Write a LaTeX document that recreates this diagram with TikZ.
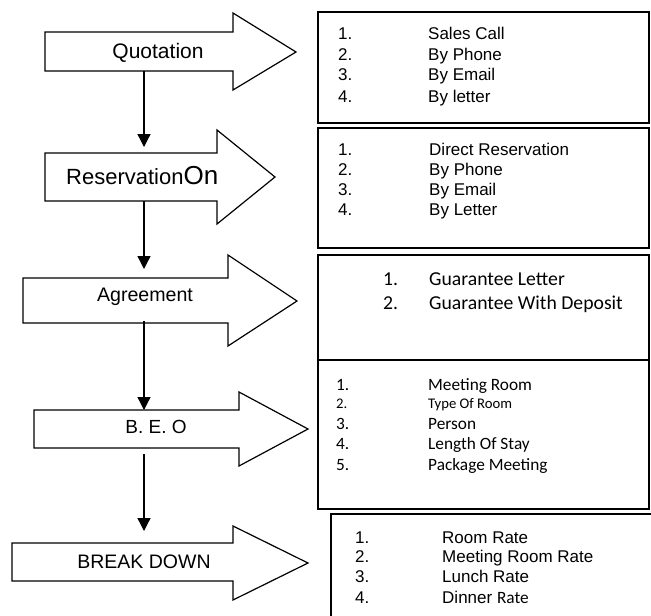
\documentclass[tikz,border=0pt]{standalone}
\usepackage{fontspec}
\setmainfont{Liberation Sans}
\newfontfamily\calfont{Carlito}
\usetikzlibrary{arrows.meta}
\begin{document}
\begin{tikzpicture}[x=1pt,y=-1pt,
  blk/.style={draw=black,line width=1.2pt,fill=white,line join=miter},
  boxline/.style={draw=black,line width=1.7pt},
  conn/.style={draw=black,line width=1.3pt,-{Triangle[width=13pt,length=13pt]}},
  lbl/.style={inner sep=0pt,anchor=base},
  itm/.style={inner sep=0pt,anchor=base west,font=\fontsize{17}{20}\selectfont},
  citm/.style={inner sep=0pt,anchor=base west,font=\calfont\fontsize{17.3}{20}\selectfont},
  gitm/.style={inner sep=0pt,anchor=base west,font=\calfont\fontsize{19.7}{23}\selectfont}]
\useasboundingbox (0,0) rectangle (651,616);
\clip (0,0) rectangle (651,616);

% ---------- right-hand boxes ----------
\draw[boxline] (318,12) rectangle (649,123);
\draw[boxline] (318,128) rectangle (649,248);
\draw[boxline] (318,255) rectangle (649,360);
\draw[boxline] (318,360) rectangle (649,509);
\draw[boxline] (331,514) rectangle (670,640);

% ---------- block arrows ----------
\draw[blk] (45,32) -- (233,32) -- (233,13) -- (296,52) -- (233,90) -- (233,71) -- (45,71) -- cycle;
\draw[blk] (45,153) -- (217,153) -- (217,130) -- (275,177) -- (217,224) -- (217,201) -- (45,201) -- cycle;
\draw[blk] (23,278) -- (228,278) -- (228,255) -- (297,301) -- (228,346) -- (228,323) -- (23,323) -- cycle;
\draw[blk] (34,410) -- (239,410) -- (239,392) -- (308,429) -- (239,466) -- (239,448) -- (34,448) -- cycle;
\draw[blk] (12,543) -- (233,543) -- (233,526) -- (308,563) -- (233,600) -- (233,581) -- (12,581) -- cycle;

% connector end points
\coordinate (q-out) at (144,71);
\coordinate (r-in) at (144,147);
\coordinate (r-out) at (144,201);
\coordinate (a-in) at (144,269);
\coordinate (a-out) at (144,321);
\coordinate (b-in) at (144,410);
\coordinate (b-out) at (144,454);
\coordinate (d-in) at (144,531);

\draw[conn] (q-out) -- (r-in);
\draw[conn] (r-out) -- (a-in);
\draw[conn] (a-out) -- (b-in);
\draw[conn] (b-out) -- (d-in);

% ---------- arrow labels ----------
\node[lbl,font=\fontsize{21}{24}\selectfont] (lq) at (158,58) {Quotation};
\node[inner sep=0pt,anchor=base west] (lr) at (66,184) {\fontsize{22}{25}\selectfont Reservation\fontsize{26}{28}\selectfont On};
\node[lbl,font=\fontsize{19.6}{23}\selectfont] (la) at (145,301) {Agreement};
\node[lbl,font=\fontsize{19}{23}\selectfont] (lb) at (156,433) {B. E. O};
\node[lbl,font=\fontsize{19.5}{23}\selectfont] (ld) at (144,568) {BREAK DOWN};

% ---------- box 1 ----------
\node[itm] (q1n) at (338,39) {1.};  \node[itm] (q1t) at (428,39) {Sales Call};
\node[itm] (q2n) at (338,60) {2.};  \node[itm] (q2t) at (428,60) {By Phone};
\node[itm] (q3n) at (338,80) {3.};  \node[itm] (q3t) at (428,80) {By Email};
\node[itm] (q4n) at (338,102) {4.}; \node[itm] (q4t) at (428,102) {By letter};

% ---------- box 2 ----------
\node[itm] (r1n) at (338,155) {1.}; \node[itm] (r1t) at (429,155) {Direct Reservation};
\node[itm] (r2n) at (338,175) {2.}; \node[itm] (r2t) at (429,175) {By Phone};
\node[itm] (r3n) at (338,195) {3.}; \node[itm] (r3t) at (429,195) {By Email};
\node[itm] (r4n) at (338,215) {4.}; \node[itm] (r4t) at (429,215) {By Letter};

% ---------- box 3 ----------
\node[gitm] (a1n) at (383,285) {1.}; \node[gitm] (a1t) at (429,285) {Guarantee Letter};
\node[gitm] (a2n) at (383,309) {2.}; \node[gitm] (a2t) at (429,309) {Guarantee With Deposit};

% ---------- box 4 ----------
\node[citm] (b1n) at (336,390) {1.}; \node[citm] (b1t) at (428,390) {Meeting Room};
\node[citm,font=\calfont\fontsize{14.7}{17}\selectfont] (b2n) at (336,408) {2.};
\node[citm,font=\calfont\fontsize{14.7}{17}\selectfont] (b2t) at (428,408) {Type Of Room};
\node[citm] (b3n) at (336,429) {3.}; \node[citm] (b3t) at (428,429) {Person};
\node[citm] (b4n) at (336,449) {4.}; \node[citm] (b4t) at (428,449) {Length Of Stay};
\node[citm] (b5n) at (336,470) {5.}; \node[citm] (b5t) at (428,470) {Package Meeting};

% ---------- box 5 ----------
\node[itm] (d1n) at (355,543) {1.}; \node[itm] (d1t) at (442,543) {Room Rate};
\node[itm] (d2n) at (355,562) {2.}; \node[itm] (d2t) at (442,562) {Meeting Room Rate};
\node[itm] (d3n) at (355,582) {3.}; \node[itm] (d3t) at (442,582) {Lunch Rate};
\node[itm] (d4n) at (355,603) {4.}; \node[itm] (d4t) at (442,603) {Dinner {\calfont\fontsize{17.3}{20}\selectfont Rate}};
\end{tikzpicture}
\end{document}
